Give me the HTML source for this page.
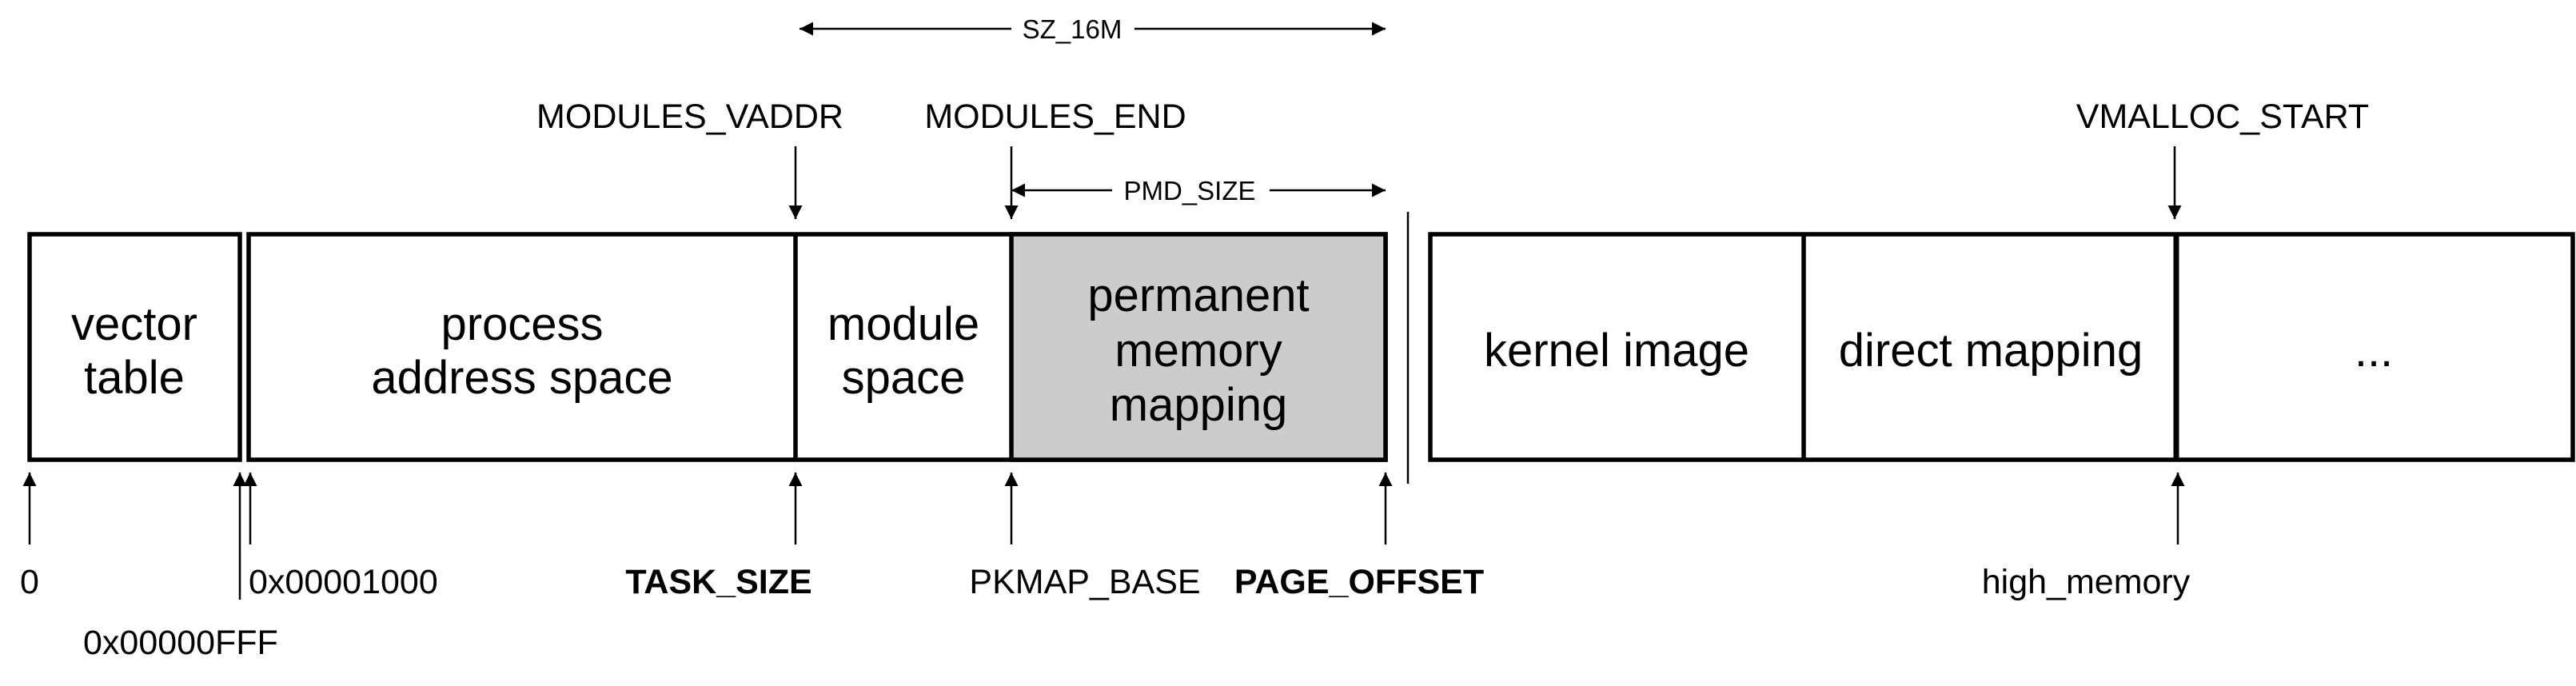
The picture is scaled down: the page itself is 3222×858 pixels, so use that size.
<!DOCTYPE html>
<html><head><meta charset="utf-8"><style>
html,body{margin:0;padding:0;background:#fff}
svg{display:block}
text{font-family:"Liberation Sans",Arial,sans-serif;fill:#000}
</style></head><body>
<svg width="3222" height="858" viewBox="0 0 3222 858" xmlns="http://www.w3.org/2000/svg">
<defs>
<marker id="a" viewBox="0 0 10 10" refX="10" refY="5" markerWidth="17" markerHeight="24" markerUnits="userSpaceOnUse" orient="auto">
<path d="M0,0 L10,5 L0,10 z" fill="#000"/></marker>
</defs>
<g stroke="#000" stroke-width="5.5" fill="none">
<rect x="37" y="293" width="263" height="282" fill="#fff"/>
<rect x="311" y="293" width="1422" height="282" fill="#fff"/>
<rect x="1265" y="293" width="468" height="282" fill="#cccccc"/>
<line x1="995" y1="293" x2="995" y2="575"/>
<rect x="1789" y="293" width="1429" height="282" fill="#fff"/>
<line x1="2256" y1="293" x2="2256" y2="575"/>
<line x1="2722" y1="293" x2="2722" y2="575" stroke-width="7"/>
</g>
<g stroke="#000" stroke-width="2.5" fill="none">
<line x1="1761" y1="265" x2="1761" y2="605"/>
<line x1="995" y1="183" x2="995" y2="274" marker-end="url(#a)"/>
<line x1="1265" y1="183" x2="1265" y2="274" marker-end="url(#a)"/>
<line x1="2720" y1="183" x2="2720" y2="274" marker-end="url(#a)"/>
<line x1="37" y1="681" x2="37" y2="591" marker-end="url(#a)"/>
<line x1="300" y1="750" x2="300" y2="591" marker-end="url(#a)"/>
<line x1="313" y1="681" x2="313" y2="591" marker-end="url(#a)"/>
<line x1="995" y1="681" x2="995" y2="591" marker-end="url(#a)"/>
<line x1="1265" y1="681" x2="1265" y2="591" marker-end="url(#a)"/>
<line x1="1733" y1="681" x2="1733" y2="591" marker-end="url(#a)"/>
<line x1="2724" y1="681" x2="2724" y2="591" marker-end="url(#a)"/>
<line x1="1265" y1="36" x2="1000" y2="36" marker-end="url(#a)"/>
<line x1="1419" y1="36" x2="1733" y2="36" marker-end="url(#a)"/>
<line x1="1391" y1="238" x2="1265" y2="238" marker-end="url(#a)"/>
<line x1="1588" y1="238" x2="1733" y2="238" marker-end="url(#a)"/>
</g>
<g font-size="33" text-anchor="middle">
<text x="1341" y="48">SZ_16M</text>
<text x="1488" y="250">PMD_SIZE</text>
</g>
<g font-size="43">
<text x="863" y="160" text-anchor="middle">MODULES_VADDR</text>
<text x="1320" y="160" text-anchor="middle">MODULES_END</text>
<text x="2780" y="160" text-anchor="middle">VMALLOC_START</text>
<text x="37" y="742" text-anchor="middle">0</text>
<text x="311" y="742">0x00001000</text>
<text x="104" y="818">0x00000FFF</text>
<text x="899" y="742" text-anchor="middle" font-weight="bold">TASK_SIZE</text>
<text x="1357" y="742" text-anchor="middle">PKMAP_BASE</text>
<text x="1700" y="742" text-anchor="middle" font-weight="bold">PAGE_OFFSET</text>
<text x="2609" y="742" text-anchor="middle">high_memory</text>
</g>
<g font-size="58" text-anchor="middle">
<text x="168" y="425">vector</text>
<text x="168" y="492">table</text>
<text x="653" y="425">process</text>
<text x="653" y="492">address space</text>
<text x="1130" y="425">module</text>
<text x="1130" y="492">space</text>
<text x="1499" y="389">permanent</text>
<text x="1499" y="458">memory</text>
<text x="1499" y="526">mapping</text>
<text x="2022" y="458">kernel image</text>
<text x="2490" y="458">direct mapping</text>
<text x="2969" y="458">...</text>
</g>
</svg>
</body></html>
